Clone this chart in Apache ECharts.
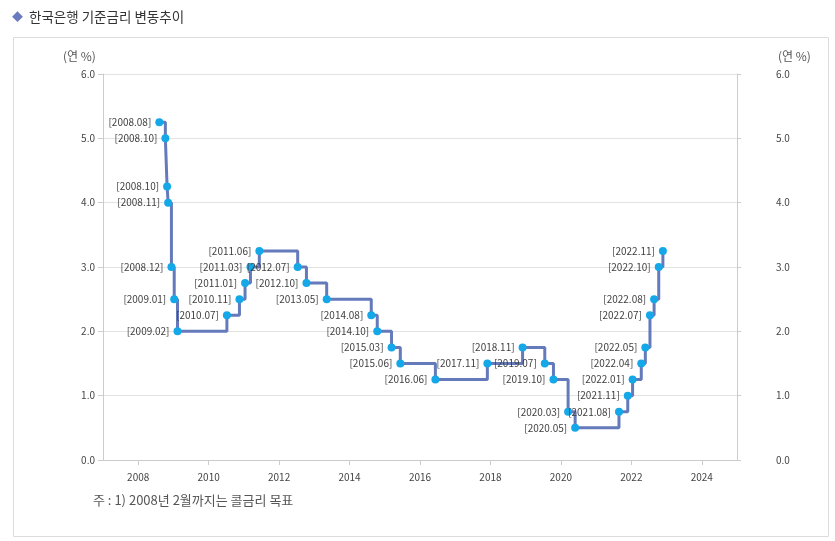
<!DOCTYPE html>
<html>
<head>
<meta charset="utf-8">
<script src="https://cdn.jsdelivr.net/npm/echarts@6/dist/echarts.min.js"></script>
<style>
html,body{margin:0;padding:0;background:#fff;}
#chart{width:835px;height:541px;}
</style>
</head>
<body>
<div id="chart"></div>
<script>
// Bank of Korea base rate change dates and rates
const changeDates = [
  '2008-08-07','2008-10-09','2008-10-27','2008-11-07','2008-12-11','2009-01-09','2009-02-12',
  '2010-07-09','2010-11-16','2011-01-13','2011-03-10','2011-06-10','2012-07-12','2012-10-11',
  '2013-05-09','2014-08-14','2014-10-15','2015-03-12','2015-06-11','2016-06-09','2017-11-30',
  '2018-11-30','2019-07-18','2019-10-16','2020-03-16','2020-05-28','2021-08-26','2021-11-25',
  '2022-01-14','2022-04-14','2022-05-26','2022-07-13','2022-08-25','2022-10-12','2022-11-24'
];
const rates = [
  5.25,5.00,4.25,4.00,3.00,2.50,2.00,
  2.25,2.50,2.75,3.00,3.25,3.00,2.75,
  2.50,2.25,2.00,1.75,1.50,1.25,1.50,
  1.75,1.50,1.25,0.75,0.50,0.75,1.00,
  1.25,1.50,1.75,2.25,2.50,3.00,3.25
];
const xTickYears = [2008,2010,2012,2014,2016,2018,2020,2022,2024];

function decYear(s){
  const [y,m,d] = s.split('-').map(Number);
  const start = Date.UTC(y,0,1), end = Date.UTC(y+1,0,1);
  return y + (Date.UTC(y,m-1,d) - start)/(end - start);
}
const seriesData = changeDates.map((d,i)=>({
  value:[decYear(d), rates[i]],
  name:'[' + d.slice(0,4) + '.' + d.slice(5,7) + ']'
}));

const FONT = '"Noto Sans CJK KR","Noto Sans",sans-serif';
const chart = echarts.init(document.getElementById('chart'), null, {renderer:'canvas'});
chart.setOption({
  animation:false,
  textStyle:{fontFamily:FONT},
  grid:{left:103,right:98,top:74,bottom:81,containLabel:false},
  graphic:[
    {type:'rect',shape:{x:13.5,y:37.5,width:815,height:499},style:{fill:'none',stroke:'#dcdcdc',lineWidth:1},z:-1},
    {type:'text',left:12,top:11,style:{text:'◆',fontSize:11,fill:'#6a7bbf',fontFamily:FONT}},
    {type:'text',left:29,top:10,style:{text:'한국은행 기준금리 변동추이',fontSize:13.5,fill:'#333',fontFamily:FONT}},
    {type:'text',left:63,top:50,style:{text:'(연 %)',fontSize:12,fill:'#555',fontFamily:FONT}},
    {type:'text',left:778,top:50,style:{text:'(연 %)',fontSize:12,fill:'#555',fontFamily:FONT}},
    {type:'text',left:93,top:494,style:{text:'주 : 1) 2008년 2월까지는 콜금리 목표',fontSize:13,fill:'#555',fontFamily:FONT}}
  ],
  xAxis:{
    type:'value',min:2007,max:2025,
    axisLine:{show:true,lineStyle:{color:'#cccccc'}},
    axisTick:{show:true,length:5,lineStyle:{color:'#cccccc'},customValues:xTickYears},
    axisLabel:{color:'#444',fontSize:10,margin:12,customValues:xTickYears,formatter:v=>String(v)},
    splitLine:{show:false}
  },
  yAxis:[
    {
      type:'value',min:0,max:6,interval:1,position:'left',
      axisLine:{show:true,lineStyle:{color:'#cccccc'}},
      axisTick:{show:true,length:5,lineStyle:{color:'#cccccc'}},
      axisLabel:{color:'#444',fontSize:10,margin:8,formatter:v=>v.toFixed(1)},
      splitLine:{show:true,lineStyle:{color:'#e3e3e3'}}
    },
    {
      type:'value',min:0,max:6,interval:1,position:'right',
      axisLine:{show:true,lineStyle:{color:'#cccccc'}},
      axisTick:{show:true,length:4,lineStyle:{color:'#cccccc'}},
      axisLabel:{color:'#444',fontSize:10,margin:39,formatter:v=>v.toFixed(1)},
      splitLine:{show:false}
    }
  ],
  series:[{
    type:'line',step:'end',yAxisIndex:0,
    data:seriesData,
    symbol:'circle',symbolSize:8,
    itemStyle:{color:'#15a8e8'},
    lineStyle:{color:'#647abb',width:3},
    label:{show:true,position:'left',distance:4,color:'#3f3f3f',fontSize:10,
      formatter:p=>p.name},
    labelLayout:{hideOverlap:false}
  }]
});
</script>
</body>
</html>
